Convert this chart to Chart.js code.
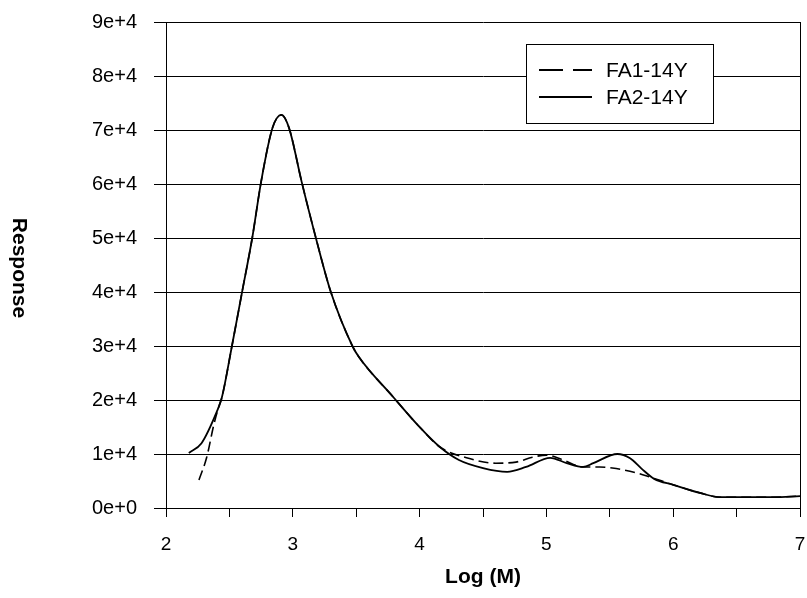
<!DOCTYPE html>
<html>
<head>
<meta charset="utf-8">
<style>
  html, body { margin: 0; padding: 0; background: #fff; }
  #wrap { width: 807px; height: 598px; }
</style>
<script src="https://cdn.jsdelivr.net/npm/chart.js@4"></script>
</head>
<body>
<div id="wrap"><canvas id="myChart"></canvas></div>
<script>
// molecular weight distributions, FA1-14Y and FA2-14Y
const fa1LogM = [2.26, 2.32, 2.38, 2.42, 2.44, 2.52, 2.60, 2.68, 2.75, 2.84, 2.91, 2.97, 3.07, 3.18, 3.30, 3.47, 3.52, 3.79, 4.00, 4.16,
  4.37, 4.60, 4.76, 4.89, 5.00, 5.13, 5.29, 5.42, 5.52, 5.71, 5.82, 6.00, 6.21, 6.37, 6.79, 7.00];
const fa1Resp = [5200, 9300, 15700, 19000, 20400, 30000, 40000, 50000, 60400, 70400, 72800, 70400, 60400, 50200, 40000, 30000, 28000, 20600, 15000, 11300,
  9300, 8300, 8500, 9400, 9800, 8900, 7600, 7600, 7400, 6500, 5700, 4300, 2800, 2000, 2000, 2200];

const fa2LogM = [2.18, 2.28, 2.40, 2.44, 2.52, 2.60, 2.68, 2.75, 2.84, 2.91, 2.97, 3.07, 3.18, 3.30, 3.47, 3.52, 3.79, 4.00, 4.16,
  4.31, 4.50, 4.69, 4.84, 5.03, 5.16, 5.29, 5.37, 5.56, 5.66, 5.75, 5.85, 6.00, 6.21, 6.37, 6.79, 7.00];
const fa2Resp = [10200, 12000, 17800, 20400, 30000, 40000, 50000, 60400, 70400, 72800, 70400, 60400, 50200, 40000, 30000, 28000, 20600, 15000, 11300,
  8900, 7400, 6700, 7600, 9300, 8300, 7600, 8300, 10000, 9200, 7300, 5400, 4300, 2800, 2000, 2000, 2200];

const seriesNames = ['FA1-14Y', 'FA2-14Y'];
const xTicks = [2, 3, 4, 5, 6, 7];
const yMax = 90000;

function toPoints(xs, ys) {
  return xs.map((x, i) => ({ x: x, y: ys[i] }));
}

Chart.defaults.font.family = "'Liberation Sans', Arial, sans-serif";
Chart.defaults.color = '#000';

// "Response" reads top to bottom, so draw it ourselves
const yTitle = {
  id: 'yTitle',
  afterDraw(chart) {
    const ctx = chart.ctx;
    const area = chart.chartArea;
    ctx.save();
    ctx.translate(19, (area.top + area.bottom) / 2 + 3);
    ctx.rotate(Math.PI / 2);
    ctx.font = "bold 21px 'Liberation Sans', Arial, sans-serif";
    ctx.fillStyle = '#000';
    ctx.textAlign = 'center';
    ctx.textBaseline = 'middle';
    ctx.fillText('Response', 0, 0);
    ctx.restore();
  }
};

// right border of the plot box
const frame = {
  id: 'frame',
  beforeDatasetsDraw(chart) {
    const ctx = chart.ctx;
    const a = chart.chartArea;
    ctx.save();
    ctx.strokeStyle = '#000';
    ctx.lineWidth = 1;
    ctx.beginPath();
    ctx.moveTo(a.right + 0.5, a.top);
    ctx.lineTo(a.right + 0.5, a.bottom);
    ctx.stroke();
    ctx.restore();
  }
};

// boxed legend sitting inside the plot
const boxLegend = {
  id: 'boxLegend',
  afterDatasetsDraw(chart) {
    const ctx = chart.ctx;
    const x = 526, y = 44, w = 187, h = 79;
    ctx.save();
    ctx.fillStyle = '#fff';
    ctx.fillRect(x, y, w, h);
    ctx.strokeStyle = '#000';
    ctx.lineWidth = 1;
    ctx.strokeRect(x + 0.5, y + 0.5, w, h);
    ctx.font = "21px 'Liberation Sans', Arial, sans-serif";
    ctx.fillStyle = '#000';
    ctx.textBaseline = 'middle';
    const rows = [70, 97];
    chart.data.datasets.forEach((ds, i) => {
      ctx.lineWidth = 2;
      ctx.setLineDash(ds.borderDash && ds.borderDash.length ? [24, 10] : []);
      ctx.beginPath();
      ctx.moveTo(539, rows[i]);
      ctx.lineTo(592, rows[i]);
      ctx.stroke();
      ctx.setLineDash([]);
      ctx.fillText(ds.label, 606, rows[i] + 1);
    });
    ctx.restore();
  }
};

const data = {
  datasets: [
    {
      label: seriesNames[0],
      data: toPoints(fa1LogM, fa1Resp),
      borderColor: '#000',
      borderWidth: 1.6,
      borderDash: [10, 5],
      pointRadius: 0,
      cubicInterpolationMode: 'monotone'
    },
    {
      label: seriesNames[1],
      data: toPoints(fa2LogM, fa2Resp),
      borderColor: '#000',
      borderWidth: 1.8,
      pointRadius: 0,
      cubicInterpolationMode: 'monotone'
    }
  ]
};

const config = {
  type: 'line',
  data: data,
  plugins: [yTitle, frame, boxLegend],
  options: {
    responsive: true,
    maintainAspectRatio: false,
    animation: false,
    layout: { padding: { top: 22, right: 7, left: 0, bottom: 0 } },
    plugins: {
      legend: { display: false },
      tooltip: { enabled: false }
    },
    scales: {
      x: {
        type: 'linear',
        min: 2,
        max: 7,
        afterBuildTicks(scale) {
          const t = [];
          for (let v = xTicks[0]; v <= xTicks[xTicks.length - 1]; v += 0.5) t.push({ value: v });
          scale.ticks = t;
        },
        afterFit(scale) {
          scale.height = 90;
          scale.paddingRight = 0;
          scale.paddingLeft = 0;
        },
        grid: {
          drawOnChartArea: false,
          drawTicks: true,
          tickLength: 9,
          color: '#000'
        },
        border: { color: '#000', width: 1 },
        ticks: {
          autoSkip: false,
          maxRotation: 0,
          padding: 16,
          font: { size: 19 },
          callback: v => (xTicks.includes(v) ? String(v) : '')
        },
        title: {
          display: true,
          text: 'Log (M)',
          font: { size: 21, weight: 'bold' },
          padding: { top: 0, bottom: 8 }
        }
      },
      y: {
        min: 0,
        max: yMax,
        afterFit(scale) {
          scale.width = 166;
          scale.paddingTop = 0;
        },
        grid: {
          color: '#000',
          lineWidth: 1,
          tickLength: 12,
          drawTicks: true
        },
        border: { color: '#000', width: 1 },
        ticks: {
          stepSize: 10000,
          padding: 17,
          font: { size: 20 },
          callback: v => (v === 0 ? '0e+0' : (v / 10000) + 'e+4')
        }
      }
    }
  }
};

const myChart = new Chart(document.getElementById('myChart'), config);
</script>
</body>
</html>
